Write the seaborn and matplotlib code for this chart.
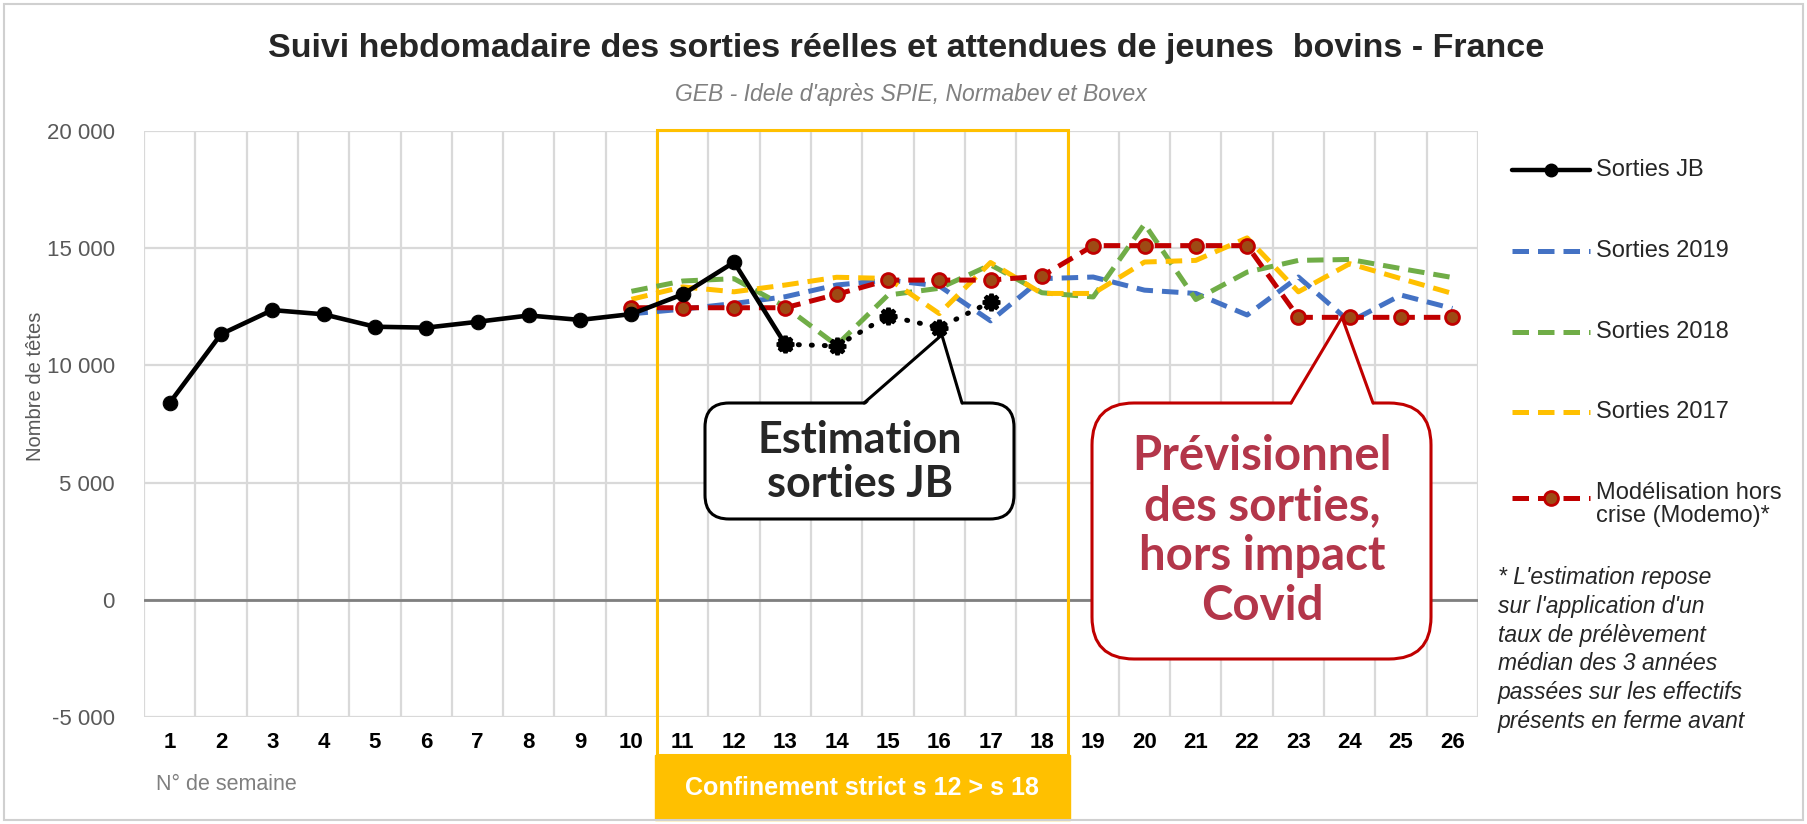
import matplotlib
matplotlib.use("Agg")
import matplotlib.pyplot as plt
import seaborn as sns
from matplotlib import font_manager
from matplotlib.patches import Rectangle, FancyBboxPatch, Polygon
from matplotlib.lines import Line2D
from matplotlib.transforms import Affine2D, blended_transform_factory

# ---------------- data ----------------
weeks = list(range(1, 27))
week_labels = [str(w) for w in weeks]

jb_weeks = list(range(1, 14))
jb_values = [8400, 11330, 12360, 12180, 11650, 11610, 11860, 12130, 11940,
             12190, 13030, 14400, 10900]

est_weeks = [13, 14, 15, 16, 17]
est_values = [10900, 10830, 12110, 11610, 12710]

ref_weeks = list(range(10, 27))
sorties_2019 = [12200, 12400, 12640, 12930, 13430, 13640, 13390, 11900, 13700,
                13770, 13210, 13070, 12150, 13770, 11860, 13000, 12430]
sorties_2018 = [13160, 13600, 13700, 12500, 10860, 13000, 13290, 14290, 13100,
                12920, 16030, 12810, 13980, 14480, 14520, 14130, 13750]
sorties_2017 = [12820, 13350, 13140, 13430, 13760, 13710, 12210, 14390, 13070,
                13070, 14410, 14480, 15440, 13140, 14340, 13700, 13070]
modemo = [12460, 12460, 12460, 12460, 13030, 13640, 13640, 13640, 13810,
          15110, 15110, 15110, 15110, 12050, 12050, 12050, 12050]

y_ticks = [-5000, 0, 5000, 10000, 15000, 20000]
y_labels = ["-5 000", "0", "5 000", "10 000", "15 000", "20 000"]

legend_labels = ["Sorties JB", "Sorties 2019", "Sorties 2018", "Sorties 2017",
                 "Modélisation hors\ncrise (Modemo)*"]

title = "Suivi hebdomadaire des sorties réelles et attendues de jeunes  bovins - France"
subtitle = "GEB - Idele d'après SPIE, Normabev et Bovex"
footnote = ("* L'estimation repose\nsur l'application d'un\ntaux de prélèvement\n"
            "médian des 3 années\npassées sur les effectifs\nprésents en ferme avant")

# ---------------- style ----------------
sns.set_theme(style="white")
names = {f.name for f in font_manager.fontManager.ttflist}
NARROW = "Liberation Sans Narrow" if "Liberation Sans Narrow" in names else "Liberation Sans"
plt.rcParams["font.family"] = ["Liberation Sans", "DejaVu Sans"]
CALLOUT = ["Lato", "DejaVu Sans"]

BLUE, GREEN, YELLOW, RED, BROWN = "#4472C4", "#70AD47", "#FFC000", "#C00000", "#9E4A14"
GRID = "#D9D9D9"

W, H = 1807, 824
fig = plt.figure(figsize=(W / 100, H / 100), dpi=100)
fig.patch.set_facecolor("white")
PX = Affine2D().scale(1, -1).translate(0, H).scale(1 / W, 1 / H) + fig.transFigure

ax = fig.add_axes([144 / W, 1 - 717 / H, (1478 - 144) / W, (717 - 131) / H])
ax.set_xlim(0.5, 26.5)
ax.set_ylim(-5000, 20000)
for s in ax.spines.values():
    s.set_visible(False)

# gridlines
ax.set_yticks(y_ticks)
ax.set_yticklabels(y_labels)
ax.set_xticks(weeks)
ax.set_xticklabels(week_labels)
ax.grid(False)
for yv in y_ticks:
    ax.axhline(yv, color=GRID, lw=1.6, zorder=0)
for xv in [w + 0.5 for w in [0] + weeks]:
    ax.axvline(xv, color=GRID, lw=1.6, zorder=0)
ax.axhline(0, color="#7F7F7F", lw=2, zorder=1)

ax.tick_params(axis="y", which="both", length=0, pad=21, labelsize=16, labelcolor="#595959")
ax.tick_params(axis="x", which="both", length=0, pad=11, labelsize=16, labelcolor="black")
for lab in ax.get_xticklabels():
    lab.set_fontfamily(NARROW)
    lab.set_fontweight("bold")
for lab in ax.get_yticklabels():
    lab.set_fontfamily(NARROW)

dash = (0, (3.3, 1.8))
common = dict(ax=ax, errorbar=None, legend=False)
sns.lineplot(x=ref_weeks, y=sorties_2019, color=BLUE, lw=3.6, linestyle=dash, zorder=3, **common)
sns.lineplot(x=ref_weeks, y=sorties_2018, color=GREEN, lw=3.6, linestyle=dash, zorder=3, **common)
sns.lineplot(x=ref_weeks, y=sorties_2017, color=YELLOW, lw=3.6, linestyle=dash, zorder=3, **common)
sns.lineplot(x=ref_weeks, y=modemo, color=RED, lw=3.6, linestyle=dash, marker="o",
             markersize=10, markerfacecolor=BROWN, markeredgecolor=RED, markeredgewidth=2,
             zorder=4, **common)
sns.lineplot(x=jb_weeks, y=jb_values, color="black", lw=3.3, marker="o", markersize=10.5,
             markeredgecolor="black", zorder=6, **common)
sns.lineplot(x=est_weeks, y=est_values, color="black", lw=3.6, linestyle=(0, (0.2, 2.4)),
             dash_capstyle="round", marker=(8, 1, 0), markersize=12, markeredgewidth=3,
             markerfacecolor="black", markeredgecolor="black", zorder=6, **common)

# ---------------- lockdown band ----------------
bt = blended_transform_factory(ax.transData, ax.transAxes)
ax.add_patch(Rectangle((10.5, -0.065), 8, 1.067, transform=bt, fill=False,
                       ec=YELLOW, lw=2.2, clip_on=False, zorder=2))
ax.add_patch(Rectangle((10.46, -0.176), 8.08, 0.111, transform=bt, fc=YELLOW,
                       ec=YELLOW, clip_on=False, zorder=2))
ax.text(14.5, -0.121, "Confinement strict s 12 > s 18", transform=bt, ha="center",
        va="center", color="white", fontsize=18, fontweight="bold", family=NARROW)

# ---------------- texts ----------------
fig.text(906 / W, 1 - 48 / H, title, ha="center", va="center", fontsize=24.5,
         fontweight="bold", family=NARROW)
fig.text(911 / W, 1 - 94 / H, subtitle, ha="center", va="center", fontsize=16.5,
         style="italic", color="#808080", family=NARROW)
fig.text(36 / W, 1 - 386 / H, "Nombre de têtes", rotation=90, ha="center", va="center",
         fontsize=14.5, color="#595959", family=NARROW)
fig.text(156 / W, 1 - 785 / H, "N° de semaine", ha="left", va="center", fontsize=15.5,
         color="#7F7F7F", family=NARROW)

# ---------------- legend (manual) ----------------
leg_y = [170, 251, 332, 412, 498]
leg_styles = [
    dict(color="black", lw=3.2, marker="o", markersize=9),
    dict(color=BLUE, lw=3.6, linestyle=dash),
    dict(color=GREEN, lw=3.6, linestyle=dash),
    dict(color=YELLOW, lw=3.6, linestyle=dash),
    dict(color=RED, lw=3.6, linestyle=dash, marker="o", markersize=10,
         markerfacecolor=BROWN, markeredgecolor=RED, markeredgewidth=2),
]
for yy, lab, st in zip(leg_y, legend_labels, leg_styles):
    fig.add_artist(Line2D([1512, 1551, 1590], [yy, yy, yy], transform=PX, markevery=[1], **st))
    if "\n" in lab:
        fig.text(1596 / W, 1 - (yy - 16) / H, lab, ha="left", va="top", fontsize=17,
                 linespacing=1.05)
    else:
        fig.text(1596 / W, 1 - yy / H, lab, ha="left", va="center", fontsize=17)

fig.text(1498 / W, 1 - 566 / H, footnote, ha="left", va="top", fontsize=16.5,
         style="italic", linespacing=1.32)

# ---------------- callouts ----------------
def callout(x0, y0, x1, y1, base_l, base_r, tip_data, ec, rs, lw=2.2):
    box = FancyBboxPatch((x0, y0), x1 - x0, y1 - y0, boxstyle=f"round,pad=0,rounding_size={rs}",
                         transform=PX, fc="white", ec=ec, lw=lw, zorder=10)
    fig.add_artist(box)
    tip = PX.inverted().transform(ax.transData.transform(tip_data))
    fig.add_artist(Polygon([(base_l, y0 + 3), (tip[0], tip[1]), (base_r, y0 + 3)], closed=True,
                           transform=PX, fc="white", ec="none", zorder=11))
    fig.add_artist(Line2D([base_l, tip[0], base_r], [y0, tip[1], y0], transform=PX,
                          color=ec, lw=lw, zorder=12, solid_joinstyle="miter"))

callout(705, 403, 1014, 519, 864, 962, (16.05, 11300), "black", 24)
fig.text(860 / W, 1 - 462 / H, "Estimation\nsorties JB", ha="center", va="center",
         fontsize=31, fontweight="bold", family=CALLOUT, linespacing=1.12, zorder=13)

callout(1092, 403, 1431, 659, 1291, 1373, (23.85, 12050), RED, 42)
fig.text(1262 / W, 1 - 531 / H, "Prévisionnel\ndes sorties,\nhors impact\nCovid", ha="center",
         va="center", fontsize=34, fontweight="bold", family=CALLOUT, color="#B3364A",
         linespacing=1.17, zorder=13)

# figure frame
fig.add_artist(Rectangle((4, 4), W - 8, H - 8, transform=PX, fill=False, ec="#D0D0D0", lw=1.5))

fig.savefig("out.png", dpi=100, facecolor="white")
